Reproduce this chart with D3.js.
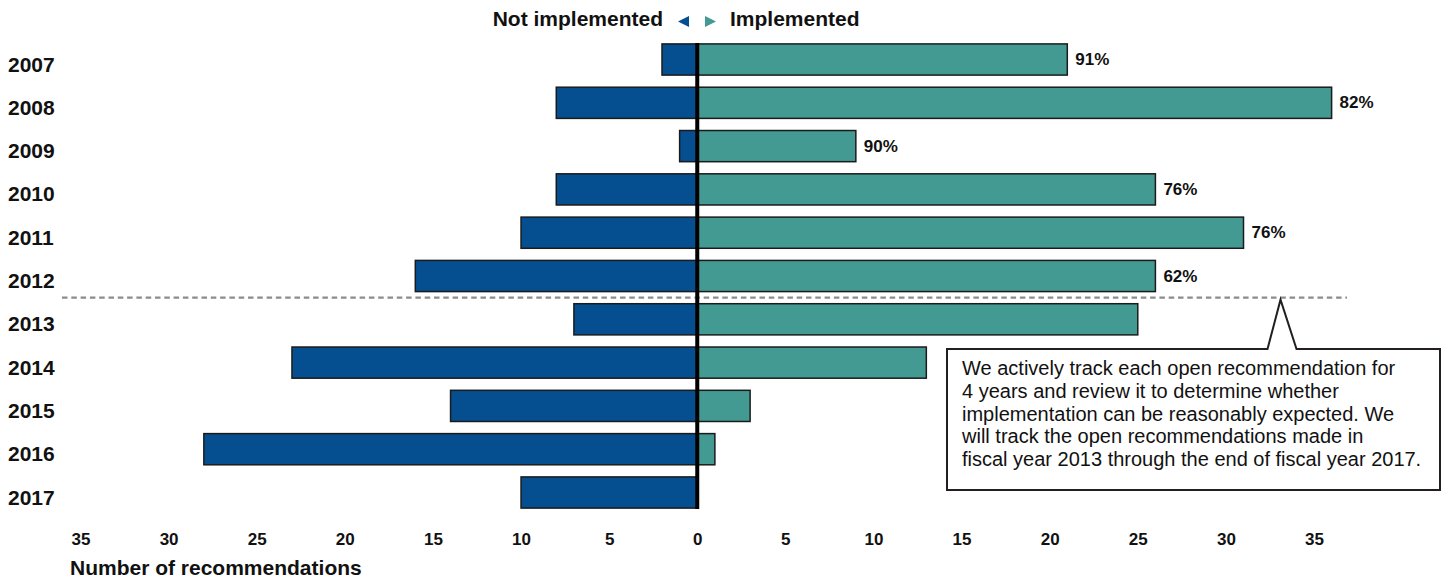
<!DOCTYPE html>
<html>
<head>
<meta charset="utf-8">
<script src="https://cdn.jsdelivr.net/npm/d3@7"></script>
<style>
  body { margin: 0; background: #fff; }
  svg { display: block; font-family: "Liberation Sans", Arial, Helvetica, sans-serif; }
</style>
</head>
<body>
<svg id="chart" width="1445" height="581"></svg>
<script>
const years = ["2007", "2008", "2009", "2010", "2011", "2012", "2013", "2014", "2015", "2016", "2017"];
const notImplemented = [2, 8, 1, 8, 10, 16, 7, 23, 14, 28, 10];
const implemented = [21, 36, 9, 26, 31, 26, 25, 13, 3, 1, 0];
const pctLabels = ["91%", "82%", "90%", "76%", "76%", "62%", "", "", "", "", ""];
const xTicks = [-35, -30, -25, -20, -15, -10, -5, 0, 5, 10, 15, 20, 25, 30, 35];
const cutoffYear = "2013";
const noteLines = [
  "We actively track each open recommendation for",
  "4 years and review it to determine whether",
  "implementation can be reasonably expected. We",
  "will track the open recommendations made in",
  "fiscal year 2013 through the end of fiscal year 2017."
];

const blue = "#054f91";
const teal = "#429a93";

const svg = d3.select("#chart");

const x = d3.scaleLinear().domain([-35, 35]).range([80.5, 1314]);
const y = d3.scaleBand()
  .domain(years)
  .range([37.85, 514.15])
  .paddingInner(0.28)
  .paddingOuter(0.14);

const rows = years.map((yr, i) => ({
  year: yr, no: notImplemented[i], yes: implemented[i], pct: pctLabels[i]
}));

// bars
const g = svg.append("g");
g.selectAll("rect.no")
  .data(rows)
  .join("rect")
  .attr("class", "no")
  .attr("x", d => x(-d.no))
  .attr("y", d => y(d.year))
  .attr("width", d => x(0) - x(-d.no))
  .attr("height", y.bandwidth())
  .attr("fill", blue)
  .attr("stroke", "#1b1b1b")
  .attr("stroke-width", 1.5);

g.selectAll("rect.yes")
  .data(rows.filter(d => d.yes > 0))
  .join("rect")
  .attr("class", "yes")
  .attr("x", x(0))
  .attr("y", d => y(d.year))
  .attr("width", d => x(d.yes) - x(0))
  .attr("height", y.bandwidth())
  .attr("fill", teal)
  .attr("stroke", "#1b1b1b")
  .attr("stroke-width", 1.5);

// percent labels
g.selectAll("text.pct")
  .data(rows.filter(d => d.pct))
  .join("text")
  .attr("class", "pct")
  .attr("x", d => x(d.yes) + 8)
  .attr("y", d => y(d.year) + y.bandwidth() / 2 + 5.5)
  .attr("font-size", 17)
  .attr("font-weight", "bold")
  .attr("fill", "#111")
  .text(d => d.pct);

// year labels
svg.append("g").selectAll("text")
  .data(years)
  .join("text")
  .attr("x", 8)
  .attr("y", d => y(d) + y.bandwidth() / 2 + 12)
  .attr("font-size", 21)
  .attr("font-weight", "bold")
  .attr("fill", "#111")
  .text(d => d);

// x axis
const xAxis = svg.append("g")
  .attr("transform", "translate(0,530)")
  .call(d3.axisBottom(x).tickValues(xTicks).tickSize(0).tickFormat(d => Math.abs(d)));
xAxis.select(".domain").remove();
xAxis.selectAll("text")
  .attr("font-family", null)
  .attr("font-size", 17)
  .attr("font-weight", "bold")
  .attr("fill", "#111")
  .attr("dy", null)
  .attr("y", 15);

svg.append("text")
  .attr("x", 70)
  .attr("y", 575)
  .attr("font-size", 21)
  .attr("font-weight", "bold")
  .attr("fill", "#111")
  .text("Number of recommendations");

// cutoff dashed line
const cutY = y(cutoffYear) - y.step() * y.paddingInner() / 2;
svg.append("line")
  .attr("x1", 62).attr("x2", 1347)
  .attr("y1", cutY).attr("y2", cutY)
  .attr("stroke", "#8c8c8c")
  .attr("stroke-width", 2.2)
  .attr("stroke-dasharray", "5.5,3.8");

// center line
svg.append("line")
  .attr("x1", x(0)).attr("x2", x(0))
  .attr("y1", y(years[0]) - 1)
  .attr("y2", y(years[years.length - 1]) + y.bandwidth() + 1)
  .attr("stroke", "#000")
  .attr("stroke-width", 4);

// legend
const leg = svg.append("g");
leg.append("text")
  .attr("x", 663).attr("y", 26)
  .attr("text-anchor", "end")
  .attr("font-size", 21).attr("font-weight", "bold").attr("fill", "#111")
  .text("Not implemented");
leg.append("path")
  .attr("d", "M678,21.5 L689,16 L689,27 Z")
  .attr("fill", blue);
leg.append("path")
  .attr("d", "M716,21.5 L705,16 L705,27 Z")
  .attr("fill", teal);
leg.append("text")
  .attr("x", 730).attr("y", 26)
  .attr("font-size", 21).attr("font-weight", "bold").attr("fill", "#111")
  .text("Implemented");

// callout
const apexX = x(33.1);
const box = { x0: 947, x1: 1440, y0: 349, y1: 490 };
svg.append("path")
  .attr("d", `M${box.x0},${box.y0} L${apexX - 13},${box.y0} L${apexX},${cutY + 2} L${apexX + 16},${box.y0} L${box.x1},${box.y0} L${box.x1},${box.y1} L${box.x0},${box.y1} Z`)
  .attr("fill", "#fff")
  .attr("stroke", "#231f20")
  .attr("stroke-width", 2);

svg.append("g").selectAll("text")
  .data(noteLines)
  .join("text")
  .attr("x", 962)
  .attr("y", (d, i) => 375 + i * 22.8)
  .attr("font-size", 20)
  .attr("fill", "#111")
  .text(d => d);
</script>
</body>
</html>
